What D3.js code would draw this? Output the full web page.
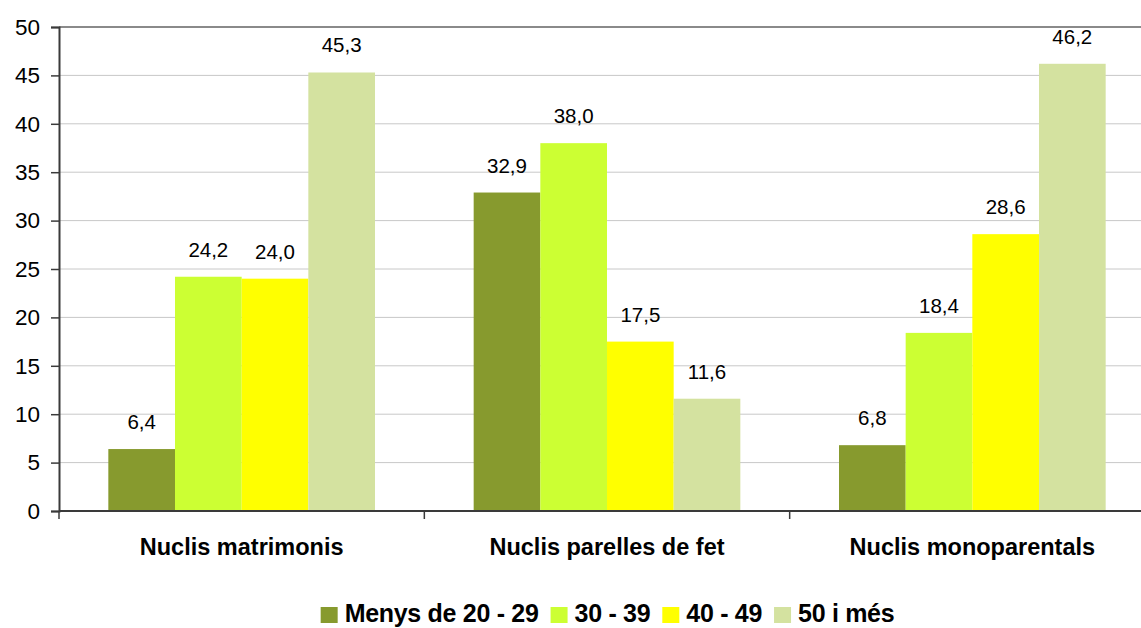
<!DOCTYPE html>
<html>
<head>
<meta charset="utf-8">
<script src="https://cdn.jsdelivr.net/npm/d3@7"></script>
<style>
  body { margin: 0; background: #fff; overflow: hidden; }
  svg { display: block; font-family: Arial, "Liberation Sans", sans-serif; }
</style>
</head>
<body>
<svg id="chart" width="1141" height="628"></svg>
<script>
// chart data
const categories = ["Nuclis matrimonis", "Nuclis parelles de fet", "Nuclis monoparentals"];
const series = ["Menys de 20 - 29", "30 - 39", "40 - 49", "50 i més"];
const colors = ["#879a2e", "#ccff33", "#ffff00", "#d4e2a0"];
const values = [
    [6.4, 24.2, 24.0, 45.3],   // matrimonis
    [32.9, 38.0, 17.5, 11.6],  // parelles de fet
    [6.8, 18.4, 28.6, 46.2]    // monoparentals
];
const yTicks = [0, 5, 10, 15, 20, 25, 30, 35, 40, 45, 50];

const svg = d3.select("#chart");

// plot area (runs a bit past the right edge, as in the original)
const plotLeft = 59, plotRight = 1155, plotTop = 27, plotBottom = 511;

const x0 = d3.scaleBand()
    .domain(categories)
    .range([plotLeft, plotRight]);

const x1 = d3.scaleBand()
    .domain(series)
    .range([0, x0.bandwidth()])
    .paddingOuter(0.74);

const y = d3.scaleLinear()
    .domain([0, 50])
    .range([plotBottom, plotTop]);

// gridlines
svg.append("g")
    .selectAll("line")
    .data(yTicks.filter(d => d > 0))
    .join("line")
    .attr("x1", plotLeft)
    .attr("x2", plotRight)
    .attr("y1", d => y(d))
    .attr("y2", d => y(d))
    .attr("stroke", d => d === 50 ? "#8a8a8a" : "#c8c8c8")
    .attr("stroke-width", d => d === 50 ? 2 : 1);

// bars
const groups = svg.append("g")
    .selectAll("g")
    .data(categories)
    .join("g")
    .attr("transform", d => `translate(${x0(d)},0)`);

groups.selectAll("rect")
    .data((d, i) => values[i].map((v, j) => ({ key: series[j], value: v, color: colors[j] })))
    .join("rect")
    .attr("x", d => x1(d.key))
    .attr("y", d => y(d.value))
    .attr("width", x1.bandwidth())
    .attr("height", d => y(0) - y(d.value))
    .attr("fill", d => d.color);

// value labels
groups.selectAll("text")
    .data((d, i) => values[i].map((v, j) => ({ key: series[j], value: v })))
    .join("text")
    .attr("x", d => x1(d.key) + x1.bandwidth() / 2)
    .attr("y", d => y(d.value) - 20)
    .attr("text-anchor", "middle")
    .style("font-size", "20.5px")
    .style("fill", "#000")
    .text(d => d.value.toFixed(1).replace(".", ","));

// y axis
const yAxis = svg.append("g")
    .attr("transform", `translate(${plotLeft},0)`)
    .call(d3.axisLeft(y).tickValues(yTicks).tickSize(8).tickPadding(11));
yAxis.select(".domain").attr("stroke", "#3a3a3a").attr("stroke-width", 2);
yAxis.selectAll(".tick line").attr("stroke", "#3a3a3a").attr("stroke-width", 1.5);
yAxis.selectAll(".tick text")
    .style("font-size", "22.5px")
    .style("font-family", "Arial, 'Liberation Sans', sans-serif")
    .attr("fill", "#000");

// x axis line and group separator ticks
svg.append("line")
    .attr("x1", plotLeft).attr("x2", plotRight)
    .attr("y1", plotBottom).attr("y2", plotBottom)
    .attr("stroke", "#3a3a3a")
    .attr("stroke-width", 2);

const sepTicks = categories.map(c => x0(c)).concat([x0(categories[categories.length - 1]) + x0.bandwidth()]);
svg.append("g")
    .selectAll("line")
    .data(sepTicks)
    .join("line")
    .attr("x1", d => d).attr("x2", d => d)
    .attr("y1", plotBottom).attr("y2", plotBottom + 8)
    .attr("stroke", "#3a3a3a")
    .attr("stroke-width", 1.5);

// category labels
svg.append("g")
    .selectAll("text")
    .data(categories)
    .join("text")
    .attr("x", d => x0(d) + x0.bandwidth() / 2)
    .attr("y", 555)
    .attr("text-anchor", "middle")
    .style("font-size", "23.5px")
    .style("font-weight", "bold")
    .text(d => d);

// legend
const legend = svg.append("g");
const items = legend.selectAll("g")
    .data(series)
    .join("g");

items.append("rect")
    .attr("y", 607)
    .attr("width", 17)
    .attr("height", 16)
    .attr("fill", (d, i) => colors[i]);

items.append("text")
    .attr("x", 24)
    .attr("y", 622)
    .style("font-size", "25px")
    .style("font-weight", "bold")
    .style("letter-spacing", "-0.3px")
    .text(d => d);

// lay out legend items side by side and centre them
let pos = 0;
items.each(function () {
    const w = d3.select(this).select("text").node().getComputedTextLength();
    d3.select(this).attr("transform", `translate(${pos},0)`);
    pos += 24 + w + 12;
});
const total = pos - 12;
legend.attr("transform", `translate(${607.5 - total / 2},0)`);
</script>
</body>
</html>
